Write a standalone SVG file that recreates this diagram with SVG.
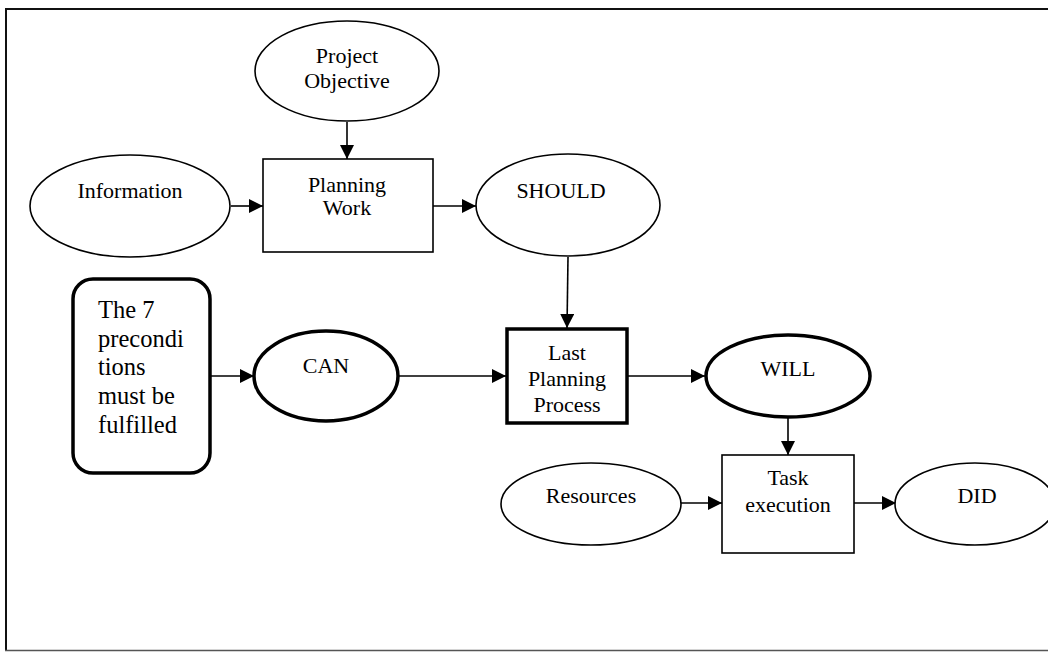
<svg xmlns="http://www.w3.org/2000/svg" width="1048" height="652" viewBox="0 0 1048 652">
<style>
text{font-family:"Liberation Serif","Times New Roman",serif;font-size:22px;fill:#000;}
.c{text-anchor:middle;}
.n{fill:#fff;stroke:#000;stroke-width:1.6;}
.t{fill:#fff;stroke:#000;stroke-width:3.5;}
.e{stroke:#000;stroke-width:1.6;fill:none;marker-end:url(#ah);}
</style>
<defs>
<marker id="ah" markerUnits="userSpaceOnUse" markerWidth="14" markerHeight="14" refX="14" refY="7" orient="auto">
<path d="M0,0 L14,7 L0,14 z" fill="#000"/>
</marker>
</defs>
<rect width="1048" height="652" fill="#fff"/>
<g id="frame">
<line x1="5" y1="9" x2="1048" y2="9" stroke="#111" stroke-width="2"/>
<line x1="6" y1="8" x2="6" y2="651" stroke="#111" stroke-width="2"/>
<line x1="5" y1="650.5" x2="1048" y2="650.5" stroke="#555" stroke-width="1.5"/>
</g>
<g id="connectors">
<line class="e" x1="347" y1="122" x2="347" y2="159"/>
<line class="e" x1="231" y1="206" x2="263" y2="206"/>
<line class="e" x1="433" y1="206" x2="476" y2="206"/>
<line class="e" x1="568" y1="257" x2="567" y2="328"/>
<line class="e" x1="210" y1="376" x2="254" y2="376"/>
<line class="e" x1="399" y1="376" x2="506" y2="376"/>
<line class="e" x1="628" y1="376" x2="705" y2="376"/>
<line class="e" x1="788" y1="418" x2="788" y2="455"/>
<line class="e" x1="681" y1="503" x2="722" y2="503"/>
<line class="e" x1="854" y1="503" x2="896" y2="503"/>
</g>
<g id="project-objective">
<ellipse class="n" cx="347" cy="71" rx="92" ry="50"/>
<text class="c" x="347" y="63">Project</text>
<text class="c" x="347" y="88">Objective</text>
</g>
<g id="information">
<ellipse class="n" cx="130" cy="206" rx="100" ry="51"/>
<text class="c" x="130" y="198">Information</text>
</g>
<g id="planning-work">
<rect class="n" x="263" y="159" width="170" height="93"/>
<text class="c" x="347" y="192">Planning</text>
<text class="c" x="347" y="215">Work</text>
</g>
<g id="should">
<ellipse class="n" cx="568" cy="205" rx="92" ry="51"/>
<text class="c" x="561" y="198">SHOULD</text>
</g>
<g id="preconditions">
<rect class="t" x="73" y="279" width="137" height="194" rx="20" ry="20"/>
<text x="98" y="318" style="font-size:24.5px">The 7</text>
<text x="98" y="347" style="font-size:24.5px">precondi</text>
<text x="98" y="375" style="font-size:24.5px">tions</text>
<text x="98" y="404" style="font-size:24.5px">must be</text>
<text x="98" y="433" style="font-size:24.5px">fulfilled</text>
</g>
<g id="can">
<ellipse class="t" cx="326" cy="376" rx="72" ry="45"/>
<text class="c" x="326" y="373">CAN</text>
</g>
<g id="last-planning-process">
<rect class="t" x="507" y="329" width="120" height="94"/>
<text class="c" x="567" y="360">Last</text>
<text class="c" x="567" y="386">Planning</text>
<text class="c" x="567" y="412">Process</text>
</g>
<g id="will">
<ellipse class="t" cx="788" cy="376" rx="82" ry="41"/>
<text class="c" x="788" y="376">WILL</text>
</g>
<g id="resources">
<ellipse class="n" cx="591" cy="504" rx="90" ry="41"/>
<text class="c" x="591" y="503">Resources</text>
</g>
<g id="task-execution">
<rect class="n" x="722" y="455" width="132" height="98"/>
<text class="c" x="788" y="485">Task</text>
<text class="c" x="788" y="512">execution</text>
</g>
<g id="did">
<ellipse class="n" cx="975" cy="504" rx="80" ry="41"/>
<text class="c" x="977" y="503">DID</text>
</g>
</svg>
